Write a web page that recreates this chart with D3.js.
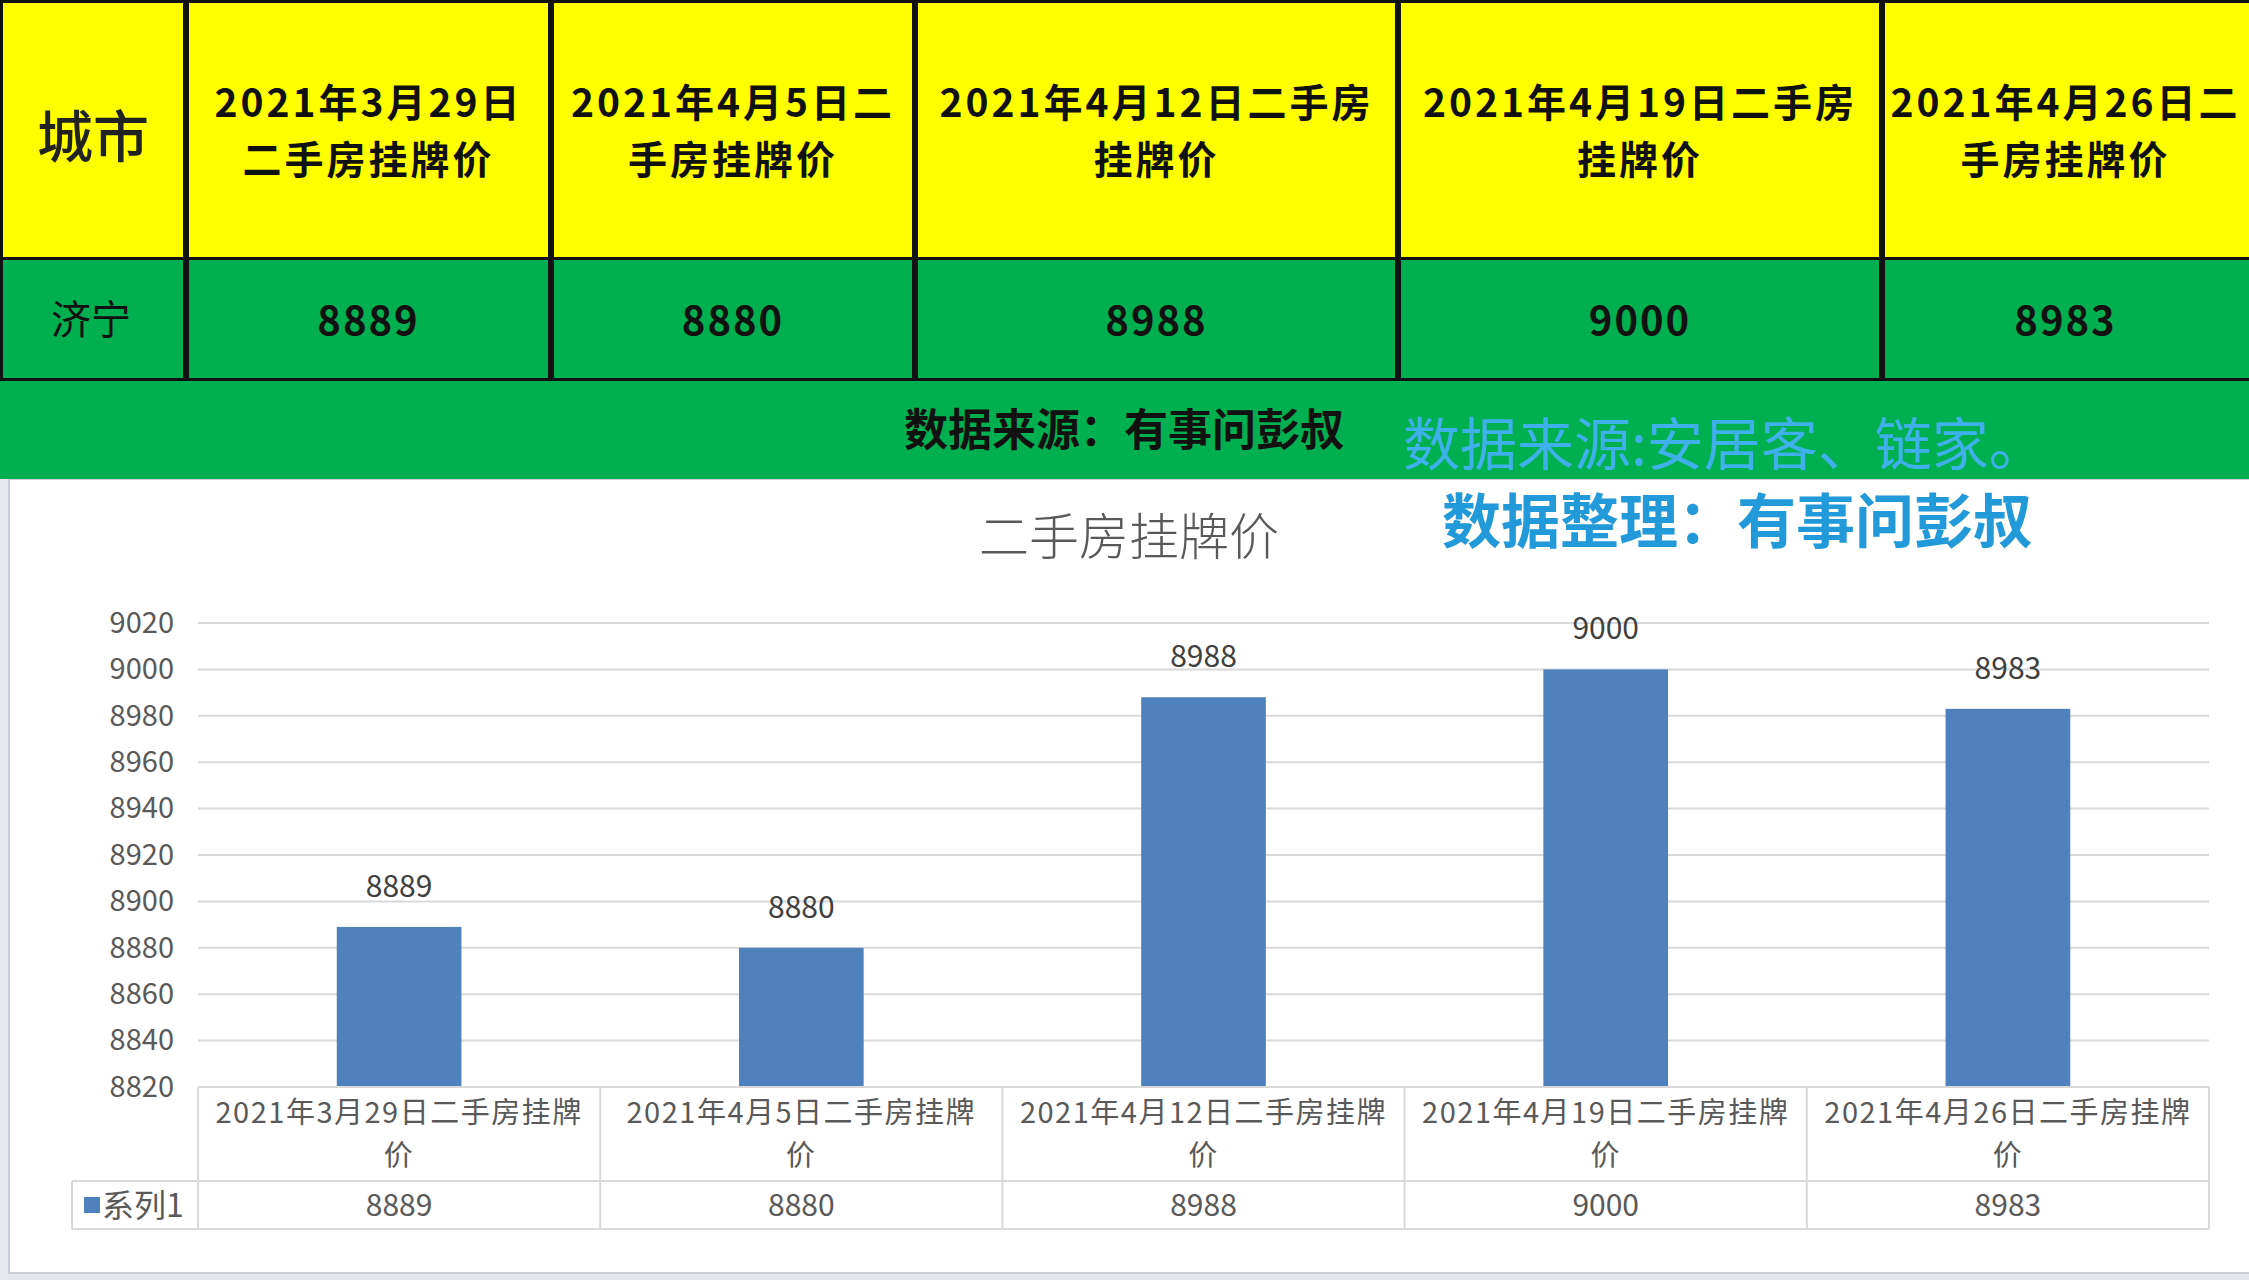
<!DOCTYPE html>
<html>
<head>
<meta charset="utf-8">
<script src="https://cdn.jsdelivr.net/npm/d3@7/dist/d3.min.js"></script>
<style>
  body { margin: 0; background: #e4e7ec; }
  svg { display: block; font-family: "Noto Sans CJK SC", "Noto Sans", sans-serif; }
</style>
</head>
<body>
<svg width="2249" height="1280"></svg>
<script>
// 表格与图表数据
var cityName = "济宁";
var headerLines = [
	["2021年3月29日", "二手房挂牌价"],
	["2021年4月5日二", "手房挂牌价"],
	["2021年4月12日二手房", "挂牌价"],
	["2021年4月19日二手房", "挂牌价"],
	["2021年4月26日二", "手房挂牌价"]
];
var categories = [
	"2021年3月29日二手房挂牌价",
	"2021年4月5日二手房挂牌价",
	"2021年4月12日二手房挂牌价",
	"2021年4月19日二手房挂牌价",
	"2021年4月26日二手房挂牌价"
];
var prices = [8889, 8880, 8988, 9000, 8983];
var yTicks = [8820, 8840, 8860, 8880, 8900, 8920, 8940, 8960, 8980, 9000, 9020];
var seriesName = "系列1";

var svg = d3.select("svg"),
	width = +svg.attr("width"),
	height = +svg.attr("height");

// ---- 图表区背景 ----
svg.append("rect").attr("x", 9).attr("y", 479).attr("width", width).attr("height", 794)
	.attr("fill", "#fff").attr("stroke", "#c9cdd5").attr("stroke-width", 2);

// ---- 顶部表格 ----
var colEdges = [0, 186, 551, 915, 1398, 1882, 2249];
var row1 = [0, 257], row2 = [257, 378];

var head = svg.append("g");
head.append("rect").attr("x", 0).attr("y", 0).attr("width", width).attr("height", 479).attr("fill", "#00b050");
head.append("rect").attr("x", 0).attr("y", 0).attr("width", width).attr("height", row1[1]).attr("fill", "#ffff00");

// 单元格边框
for (var i = 0; i < colEdges.length - 1; i++) {
	[row1, row2].forEach(function (r) {
		head.append("rect")
			.attr("x", colEdges[i] + 1.5).attr("y", r[0] + 1.5)
			.attr("width", colEdges[i + 1] - colEdges[i] - 3 + (i == colEdges.length - 2 ? 3 : 0))
			.attr("height", r[1] - r[0])
			.attr("fill", "none").attr("stroke", "#111").attr("stroke-width", 3);
	});
}

head.append("text").attr("x", 93).attr("y", 137).attr("dy", "0.36em")
	.attr("text-anchor", "middle").style("font-size", "56px").style("font-weight", 500)
	.attr("fill", "#222").text("城市");
head.append("text").attr("x", 91).attr("y", 320).attr("dy", "0.36em")
	.attr("text-anchor", "middle").style("font-size", "40px").attr("fill", "#111").text(cityName);

// 表头两行
headerLines.forEach(function (lines, i) {
	var cx = (colEdges[i + 1] + colEdges[i + 2]) / 2;
	lines.forEach(function (s, j) {
		head.append("text").attr("x", cx).attr("y", 103 + j * 57).attr("dy", "0.36em")
			.attr("text-anchor", "middle").style("font-size", "39px").style("font-weight", 700)
			.style("letter-spacing", "3px").attr("fill", "#111").text(s);
	});
});

prices.forEach(function (v, i) {
	var cx = (colEdges[i + 1] + colEdges[i + 2]) / 2;
	head.append("text").attr("x", cx).attr("y", 321).attr("dy", "0.36em")
		.attr("text-anchor", "middle").style("font-size", "40px").style("font-weight", 700)
		.style("letter-spacing", "2px").attr("fill", "#111").text(v);
});

head.append("text").attr("x", 1124).attr("y", 430).attr("dy", "0.36em")
	.attr("text-anchor", "middle").style("font-size", "44px").style("font-weight", 700)
	.attr("fill", "#111").text("数据来源：有事问彭叔");

svg.append("text").attr("x", 1403).attr("y", 444).attr("dy", "0.36em")
	.style("font-size", "57px").attr("fill", "#3eb1ea").text("数据来源:安居客、链家。");
svg.append("text").attr("x", 1737).attr("y", 522).attr("dy", "0.36em")
	.attr("text-anchor", "middle").style("font-size", "59px").style("font-weight", 700)
	.attr("fill", "#2299d8").text("数据整理：有事问彭叔");

svg.append("text").attr("x", 1129).attr("y", 537).attr("dy", "0.36em")
	.attr("text-anchor", "middle").style("font-size", "50px").style("font-weight", 300)
	.attr("fill", "#595959").text("二手房挂牌价");

var plotL = 198, plotR = 2209;
var x = d3.scaleBand().domain(categories).range([plotL, plotR]).padding(0);
var y = d3.scaleLinear().domain([8820, 9020]).range([1087, 623]);

var chart = svg.append("g");

// 网格线
chart.append("g").selectAll("line").data(yTicks).enter().append("line")
	.attr("x1", plotL).attr("x2", plotR)
	.attr("y1", function (d) { return y(d) }).attr("y2", function (d) { return y(d) })
	.attr("stroke", "#d9d9d9").attr("stroke-width", 2);

// y 轴
var yAxis = chart.append("g").attr("transform", "translate(" + (plotL - 10) + ",0)")
	.call(d3.axisLeft(y).tickValues(yTicks).tickSize(0).tickPadding(14).tickFormat(d3.format("d")));
yAxis.select(".domain").remove();
yAxis.selectAll("text").style("font-size", "29px").attr("fill", "#595959")
	.style("font-family", "\"Noto Sans CJK SC\", sans-serif");

// 柱子
var barW = x.bandwidth() * 0.31;
chart.append("g").selectAll("rect").data(prices).enter().append("rect")
	.attr("x", function (d, i) { return x(categories[i]) + (x.bandwidth() - barW) / 2 })
	.attr("y", function (d) { return y(d) })
	.attr("width", barW)
	.attr("height", function (d) { return y(8820) - y(d) })
	.attr("fill", "#4f81bd");

chart.append("g").selectAll("text").data(prices).enter().append("text")
	.attr("x", function (d, i) { return x(categories[i]) + x.bandwidth() / 2 })
	.attr("y", function (d) { return y(d) - 41 })
	.attr("dy", "0.36em").attr("text-anchor", "middle")
	.style("font-size", "30px").attr("fill", "#404040")
	.text(function (d) { return d });

// 数据表
var tRow1 = [1087, 1181], tRow2 = [1181, 1229], legendL = 72;
var tbl = chart.append("g").attr("stroke", "#d9d9d9").attr("stroke-width", 2).attr("fill", "none");
tbl.append("line").attr("x1", plotL).attr("x2", plotR).attr("y1", tRow1[0]).attr("y2", tRow1[0]);
tbl.append("line").attr("x1", legendL).attr("x2", plotR).attr("y1", tRow2[0]).attr("y2", tRow2[0]);
tbl.append("line").attr("x1", legendL).attr("x2", plotR).attr("y1", tRow2[1]).attr("y2", tRow2[1]);
tbl.append("line").attr("x1", legendL).attr("x2", legendL).attr("y1", tRow2[0]).attr("y2", tRow2[1]);
tbl.selectAll(".v").data(categories.concat(["end"])).enter().append("line")
	.attr("x1", function (d) { return d == "end" ? plotR : x(d) })
	.attr("x2", function (d) { return d == "end" ? plotR : x(d) })
	.attr("y1", tRow1[0]).attr("y2", tRow2[1]);

categories.forEach(function (c, i) {
	var cx = x(c) + x.bandwidth() / 2;
	[c.slice(0, -1), c.slice(-1)].forEach(function (s, j) {
		chart.append("text").attr("x", cx).attr("y", 1113 + j * 43).attr("dy", "0.36em")
			.attr("text-anchor", "middle").style("font-size", "29px").style("letter-spacing", "1.5px")
			.attr("fill", "#595959").text(s);
	});
	chart.append("text").attr("x", cx).attr("y", 1205).attr("dy", "0.36em")
		.attr("text-anchor", "middle").style("font-size", "30px").attr("fill", "#595959").text(prices[i]);
});

chart.append("rect").attr("x", 84).attr("y", 1197).attr("width", 16).attr("height", 16).attr("fill", "#4f81bd");
chart.append("text").attr("x", 102).attr("y", 1205).attr("dy", "0.36em")
	.style("font-size", "32px").attr("fill", "#595959").text(seriesName);
</script>
</body>
</html>
